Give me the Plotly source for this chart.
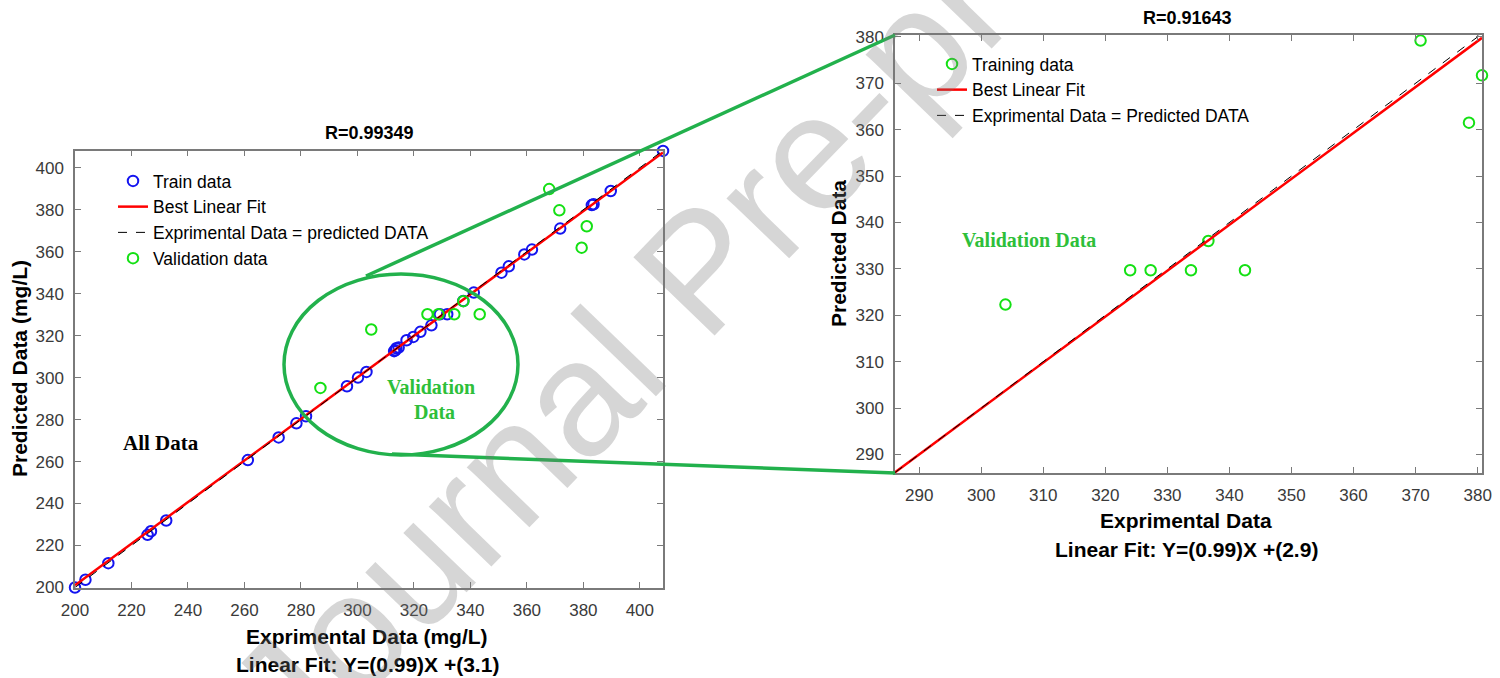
import plotly.graph_objects as go

# ---------------- data: left panel (All Data) ----------------
train_x = [200.0, 203.7, 211.8, 225.7, 226.9, 232.3, 261.2, 272.1, 278.4, 281.8,
           296.3, 300.2, 303.2, 313.0, 313.4, 313.8, 314.6, 317.4, 319.8, 322.3,
           326.2, 329.2, 331.8, 337.5, 341.2, 351.0, 353.6, 359.1, 361.8, 371.8,
           383.0, 383.6, 389.7, 408.2]
train_y = [200.0, 203.7, 211.6, 225.1, 226.8, 231.9, 260.7, 271.5, 278.2, 281.6,
           295.9, 300.0, 302.7, 312.6, 313.0, 314.0, 314.3, 317.8, 319.4, 321.8,
           324.9, 330.2, 330.2, 336.5, 340.5, 350.0, 353.0, 358.7, 361.0, 371.0,
           382.2, 382.6, 388.9, 408.0]
val_x = [286.9, 304.9, 324.8, 328.7, 334.3, 337.5, 343.3, 367.9, 371.5, 381.2, 379.4]
val_y = [295.1, 322.9, 330.2, 330.2, 330.2, 336.4, 330.2, 389.8, 379.7, 372.1, 361.9]
left_fit = (0.99, 3.1)
left_range = [200, 408.2]
left_ticks = list(range(200, 401, 20))

# ---------------- data: right panel (Validation zoom) ----------------
r_x = [286.0, 303.9, 324.0, 327.3, 333.8, 336.6, 342.5, 370.8, 378.6, 380.7]
r_y = [294.3, 322.3, 329.7, 329.7, 329.7, 336.0, 329.7, 379.2, 361.5, 371.7]
right_fit = (0.99, 2.9)
right_xrange = [286.1, 380.7]
right_yrange = [286.0, 380.4]
right_ticks = list(range(290, 381, 10))

BLUE = "#1414F0"
GREEN = "#14E014"
RED = "#FF0000"
DARKGREEN = "#22B14C"
TXTGREEN = "#2EBF3A"

fig = go.Figure()

def fit_line(rng, coef):
    return [rng[0], rng[1]], [coef[0] * rng[0] + coef[1], coef[0] * rng[1] + coef[1]]

# left panel traces
fig.add_trace(go.Scatter(x=train_x, y=train_y, mode="markers", name="Train data",
                         marker=dict(symbol="circle-open", size=10.5, color=BLUE, line=dict(width=2, color=BLUE)),
                         xaxis="x", yaxis="y", legend="legend", cliponaxis=False))
fx, fy = fit_line(left_range, left_fit)
fig.add_trace(go.Scatter(x=fx, y=fy, mode="lines", name="Best Linear Fit",
                         line=dict(color=RED, width=2.5), xaxis="x", yaxis="y", legend="legend"))
fig.add_trace(go.Scatter(x=left_range, y=left_range, mode="lines", name="Exprimental Data = predicted DATA",
                         line=dict(color="black", width=1, dash="dash"), xaxis="x", yaxis="y", legend="legend"))
fig.add_trace(go.Scatter(x=val_x, y=val_y, mode="markers", name="Validation data",
                         marker=dict(symbol="circle-open", size=10.5, color=GREEN, line=dict(width=2, color=GREEN)),
                         xaxis="x", yaxis="y", legend="legend", cliponaxis=False))

# right panel traces
fig.add_trace(go.Scatter(x=r_x, y=r_y, mode="markers", name="Training data",
                         marker=dict(symbol="circle-open", size=10.5, color=GREEN, line=dict(width=2, color=GREEN)),
                         xaxis="x2", yaxis="y2", legend="legend2", cliponaxis=False))
fx2, fy2 = fit_line(right_xrange, right_fit)
fig.add_trace(go.Scatter(x=fx2, y=fy2, mode="lines", name="Best Linear Fit",
                         line=dict(color=RED, width=2.5), xaxis="x2", yaxis="y2", legend="legend2"))
fig.add_trace(go.Scatter(x=right_xrange, y=right_xrange, mode="lines", name="Exprimental Data = Predicted DATA",
                         line=dict(color="black", width=1, dash="dash"), xaxis="x2", yaxis="y2", legend="legend2"))

W, H = 1500, 678
def px(x):
    return x / W
def py(y):
    return 1 - y / H

axis_common = dict(showline=True, linecolor="#7a7a7a", linewidth=1.5, mirror="ticks",
                   ticks="inside", ticklen=6, tickwidth=1.2, tickcolor="#7a7a7a",
                   showgrid=False, zeroline=False, automargin=False,
                   tickfont=dict(family="Arial", size=17, color="#3a3a3a"),
                   ticklabelstandoff=6)

fig.update_layout(
    width=W, height=H, margin=dict(l=0, r=0, t=0, b=0, pad=0, autoexpand=False),
    paper_bgcolor="white", plot_bgcolor="white",
    font=dict(family="Arial", color="black"),
    xaxis=dict(domain=[px(75), px(663)], range=left_range, tickvals=left_ticks, anchor="y", **axis_common),
    yaxis=dict(domain=[py(587.5), py(150.5)], range=left_range, tickvals=left_ticks, anchor="x", **axis_common),
    xaxis2=dict(domain=[px(895), px(1482)], range=right_xrange, tickvals=right_ticks, anchor="y2", **axis_common),
    yaxis2=dict(domain=[py(473), py(35)], range=right_yrange, tickvals=right_ticks, anchor="x2", **axis_common),
    legend=dict(x=px(113), y=py(163), xanchor="left", yanchor="top", bgcolor="rgba(0,0,0,0)",
                font=dict(family="Arial", size=17.5, color="black"), tracegroupgap=0),
    legend2=dict(x=px(932), y=py(46), xanchor="left", yanchor="top", bgcolor="rgba(0,0,0,0)",
                 font=dict(family="Arial", size=17.5, color="black"), tracegroupgap=0),
    showlegend=True,
)

# decorations: ellipse and zoom connectors (paper coords)
fig.add_shape(type="circle", xref="paper", yref="paper",
              x0=px(284), x1=px(518), y0=py(455), y1=py(274),
              line=dict(color=DARKGREEN, width=3.5))
fig.add_shape(type="line", xref="paper", yref="paper",
              x0=px(366), y0=py(276), x1=px(895), y1=py(35),
              line=dict(color=DARKGREEN, width=3.5))
fig.add_shape(type="line", xref="paper", yref="paper",
              x0=px(392), y0=py(454), x1=px(895), y1=py(473),
              line=dict(color=DARKGREEN, width=3.5))

def ann(text, x, y, size, bold=True, family="Arial", color="black", angle=0):
    fig.add_annotation(text=(f"<b>{text}</b>" if bold else text), x=px(x), y=py(y),
                       xref="paper", yref="paper", showarrow=False, textangle=angle,
                       xanchor="center", yanchor="middle",
                       font=dict(family=family, size=size, color=color))

# titles and axis labels
ann("R=0.99349", 369, 133, 18)
ann("R=0.91643", 1187, 18, 18)
ann("Exprimental Data (mg/L)", 367, 636, 21)
ann("Linear Fit: Y=(0.99)X +(3.1)", 367, 664, 21)
ann("Exprimental Data", 1186, 520, 21)
ann("Linear Fit: Y=(0.99)X +(2.9)", 1186, 549, 21)
ann("Predicted Data (mg/L)", 20, 369, 21, angle=-90)
ann("Predicted Data", 838, 254, 21, angle=-90)

# in-plot labels
ann("All Data", 161, 443, 21, family="Liberation Serif, Times New Roman, serif")
ann("Validation", 431, 387, 20, family="Liberation Serif, Times New Roman, serif", color=TXTGREEN)
ann("Data", 434, 412, 20, family="Liberation Serif, Times New Roman, serif", color=TXTGREEN)
ann("Validation Data", 1029, 240, 20, family="Liberation Serif, Times New Roman, serif", color=TXTGREEN)

# watermark
ann("Journal Pre-proof", 700, 270, 164, bold=False, color="rgba(120,120,120,0.3)", angle=-46)

fig.write_html("out.html")
